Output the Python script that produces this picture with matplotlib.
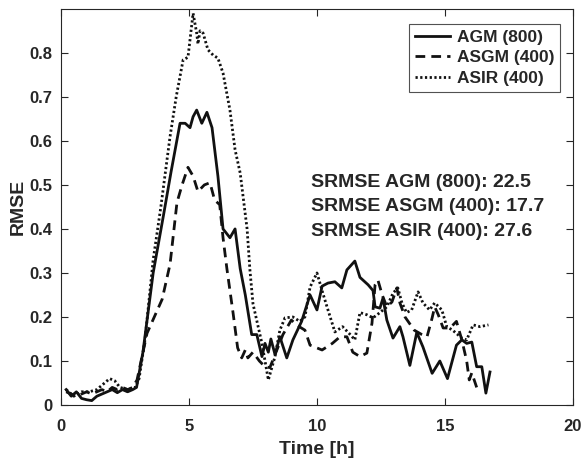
import matplotlib.pyplot as plt

plt.rcParams['font.family'] = ['Liberation Sans', 'DejaVu Sans']
plt.rcParams['font.weight'] = 'bold'

# AGM (800) - solid
t_agm = [0.2, 0.4, 0.6, 0.8, 1.0, 1.2, 1.4, 1.6, 1.8, 2.0, 2.2, 2.4, 2.6, 2.8, 2.95,
         3.2, 3.6, 4.0, 4.3, 4.65, 4.85, 5.04, 5.16, 5.3, 5.5, 5.7, 5.9, 6.13, 6.33,
         6.6, 6.8, 7.0, 7.2, 7.45, 7.65, 7.85, 7.97, 8.1, 8.2, 8.36, 8.55, 8.82, 9.06,
         9.4, 9.73, 10.0, 10.2, 10.43, 10.7, 10.97, 11.17, 11.48, 11.68, 12.0, 12.19,
         12.27, 12.46, 12.58, 12.73, 12.97, 13.24, 13.36, 13.63, 13.9, 14.14, 14.5, 14.8, 15.1,
         15.45, 15.66, 15.85, 16.05, 16.24, 16.44, 16.6, 16.76]
y_agm = [0.035, 0.02, 0.03, 0.015, 0.012, 0.01, 0.02, 0.025, 0.03, 0.035, 0.028, 0.035,
         0.03, 0.035, 0.04,
         0.12, 0.3, 0.43, 0.53, 0.64, 0.64, 0.63, 0.655, 0.67, 0.64, 0.665, 0.63, 0.52, 0.40,
         0.38, 0.40, 0.31, 0.25, 0.16, 0.16, 0.11, 0.14, 0.12, 0.15, 0.115, 0.155, 0.107, 0.148,
         0.19, 0.25, 0.216, 0.27, 0.277, 0.28, 0.266, 0.307, 0.327, 0.29, 0.273, 0.26,
         0.223, 0.22, 0.243, 0.193, 0.152, 0.178, 0.155, 0.09, 0.165, 0.132, 0.072, 0.10, 0.06,
         0.136, 0.148, 0.14, 0.143, 0.087, 0.087, 0.027, 0.075]

# ASGM (400) - dashed
t_asgm = [0.2, 0.4, 0.6, 0.8, 1.0, 1.2, 1.4, 1.6, 1.8, 2.0, 2.2, 2.4, 2.6, 2.8, 2.97,
          3.36, 3.95, 4.26, 4.53, 4.73, 4.96, 5.16, 5.35, 5.6, 5.82, 6.0, 6.2, 6.33, 6.48,
          6.72, 6.9, 7.06, 7.2, 7.3, 7.5, 7.75, 7.97, 8.16, 8.4, 8.67, 9.0, 9.25, 9.53,
          9.73, 10.2, 10.6, 10.9, 11.17, 11.4, 11.68, 11.95, 12.15, 12.27, 12.38, 12.55,
          12.73, 12.93, 13.12, 13.24, 13.44, 13.8, 14.1, 14.3, 14.5, 14.6, 14.74, 14.93,
          15.2, 15.45, 15.66, 15.85, 15.95, 16.05, 16.24]
y_asgm = [0.03, 0.025, 0.02, 0.025, 0.03, 0.025, 0.03, 0.035, 0.03, 0.04, 0.035, 0.04,
          0.035, 0.04, 0.057,
          0.163, 0.24, 0.32, 0.46, 0.50, 0.54, 0.52, 0.485, 0.50, 0.505, 0.466, 0.455, 0.38, 0.31,
          0.21, 0.13, 0.107, 0.125, 0.107, 0.12, 0.10, 0.087, 0.085, 0.12, 0.16, 0.193, 0.18, 0.17,
          0.136, 0.125, 0.14, 0.155, 0.155, 0.12, 0.11, 0.118, 0.186, 0.273, 0.284, 0.25,
          0.223, 0.234, 0.266, 0.232, 0.20, 0.17, 0.16, 0.155, 0.198, 0.223, 0.205, 0.175,
          0.175, 0.19, 0.148, 0.10, 0.057, 0.073, 0.04]

# ASIR (400) - dotted
t_asir = [0.2, 0.5, 0.8, 1.1, 1.4, 1.7, 1.9, 2.1, 2.3, 2.6, 2.9, 3.05, 3.28, 3.6,
          3.9, 4.26, 4.5, 4.77, 4.96, 5.16, 5.3, 5.35, 5.43, 5.55, 5.74, 5.94, 6.13, 6.33,
          6.6, 6.8, 7.0, 7.27, 7.38, 7.5, 7.85, 8.1, 8.36, 8.55, 8.75, 9.06, 9.33, 9.53,
          9.73, 10.0, 10.23, 10.43, 10.7, 11.0, 11.3, 11.48, 11.68, 11.95, 12.19, 12.46,
          12.73, 12.97, 13.16, 13.32, 13.5, 13.7, 13.95, 14.14, 14.4, 14.6, 14.88, 15.07,
          15.3, 15.66, 15.85, 16.1, 16.37, 16.7]
y_asir = [0.035, 0.02, 0.03, 0.03, 0.035, 0.05, 0.06, 0.055, 0.04, 0.035, 0.04, 0.06, 0.148, 0.33,
          0.45, 0.61, 0.70, 0.784, 0.79, 0.89, 0.845, 0.82, 0.85, 0.845, 0.807, 0.795, 0.788, 0.754,
          0.67, 0.58, 0.527, 0.40, 0.307, 0.23, 0.14, 0.057, 0.11, 0.17, 0.198, 0.20, 0.19, 0.20,
          0.268, 0.30, 0.254, 0.216, 0.166, 0.178, 0.16, 0.148, 0.21, 0.205, 0.198, 0.21,
          0.223, 0.254, 0.266, 0.232, 0.21, 0.216, 0.257, 0.232, 0.216, 0.232, 0.216, 0.178,
          0.17, 0.152, 0.148, 0.182, 0.178, 0.182]

srmse_lines = ["SRMSE AGM (800): 22.5", "SRMSE ASGM (400): 17.7", "SRMSE ASIR (400): 27.6"]
x_ticks = [0, 5, 10, 15, 20]
y_ticks = [0, 0.1, 0.2, 0.3, 0.4, 0.5, 0.6, 0.7, 0.8]
y_ticklabels = ['0', '0.1', '0.2', '0.3', '0.4', '0.5', '0.6', '0.7', '0.8']

txt = '#262626'
fig = plt.figure(figsize=(5.84, 4.65), dpi=100)
ax = fig.add_axes([0.1045, 0.129, 0.8765, 0.852])

ax.plot(t_agm, y_agm, color='#111111', lw=2.0, ls='-', label='AGM (800)')
ax.plot(t_asgm, y_asgm, color='#111111', lw=2.0, ls=(0, (3.5, 2.2)), label='ASGM (400)')
ax.plot(t_asir, y_asir, color='#111111', lw=2.0, ls=(0, (0.8, 0.9)), label='ASIR (400)')

ax.set_xlim(0, 20)
ax.set_ylim(0, 0.9)
ax.set_xticks(x_ticks)
ax.set_yticks(y_ticks)
ax.set_yticklabels(y_ticklabels)
ax.tick_params(direction='in', top=True, right=True, labelsize=12, colors=txt,
               length=5, width=0.8)
ax.tick_params(axis='x', pad=10)
ax.tick_params(axis='y', pad=6)
for s in ax.spines.values():
    s.set_color('#262626')
    s.set_linewidth(0.8)

ax.set_xlabel('Time [h]', fontsize=14, fontweight='bold', color=txt, labelpad=5)
ax.set_ylabel('RMSE', fontsize=14, fontweight='bold', color=txt, labelpad=2)

leg = ax.legend(loc='upper right', bbox_to_anchor=(0.975, 0.962), fontsize=12.5,
                frameon=True, fancybox=False, handlelength=2.0, handletextpad=0.4,
                borderpad=0.35, labelspacing=0.3, borderaxespad=0)
leg.get_frame().set_edgecolor('#262626')
leg.get_frame().set_linewidth(0.8)
for t in leg.get_texts():
    t.set_color(txt)

for i, line in enumerate(srmse_lines):
    ax.text(9.75, 0.505 - i * 0.055, line, fontsize=14, fontweight='bold',
            color=txt, va='center', ha='left')

fig.savefig('out.png', dpi=100)
